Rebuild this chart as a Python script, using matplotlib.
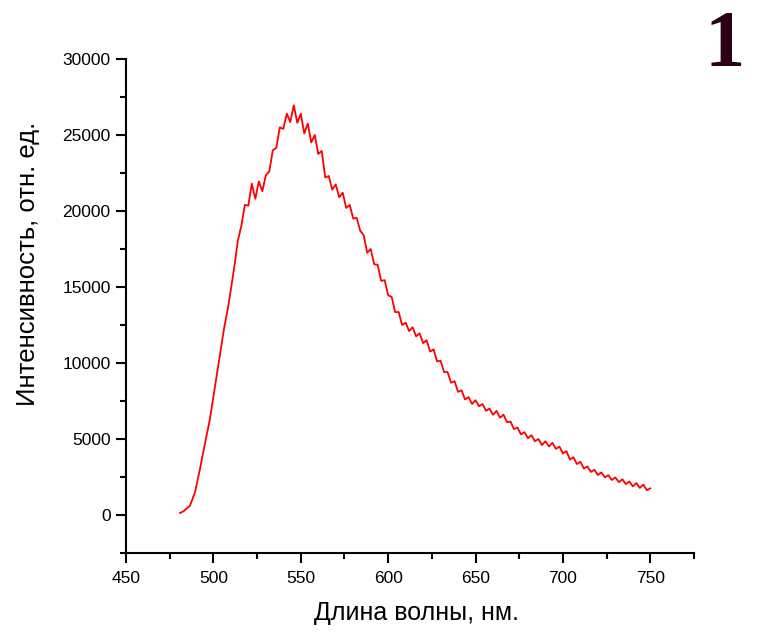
import numpy as np
import matplotlib.pyplot as plt
from matplotlib.ticker import MultipleLocator

plt.rcParams['font.family'] = ['Liberation Sans', 'DejaVu Sans']

# smooth rising edge
edge_wl = [480.9, 483.0, 486.6, 489.5, 492.3, 495.0, 498.0, 501.0, 503.7, 506.0,
           508.5, 510.5, 512.3]
edge_int = [130, 250, 610, 1500, 3020, 4600, 6300, 8500, 10460, 12200,
            13740, 15200, 16590]

# noisy part, every 2 nm from 514 to 750 (values include visible scatter)
noisy_wl = list(range(514, 751, 2))
noisy_int = [18050, 19020, 20400, 20350, 21800, 20800, 21950, 21300, 22350, 22600,
             24000, 24150, 25500, 25400, 26400, 25850, 26950, 25800, 26400, 25100,
             25750, 24500, 25000, 23750, 23950, 22200, 22300, 21400, 21750, 20900,
             21200, 20200, 20400, 19500, 19550, 18700, 18400, 17250, 17500, 16500,
             16450, 15400, 15450, 14450, 14350, 13350, 13350, 12500, 12650, 12100,
             12350, 11750, 11950, 11300, 11500, 10750, 10900, 10100, 10150, 9400,
             9400, 8700, 8800, 8100, 8200, 7600, 7750, 7300, 7550, 7150,
             7300, 6850, 7000, 6590, 6850, 6400, 6600, 6100, 6150, 5650,
             5750, 5300, 5450, 5050, 5250, 4850, 5000, 4600, 4850, 4500,
             4750, 4350, 4500, 4050, 4200, 3650, 3800, 3350, 3500, 3050,
             3200, 2830, 2970, 2630, 2800, 2480, 2620, 2300, 2470, 2160,
             2350, 2030, 2200, 1880, 2100, 1780, 2000, 1630, 1750]

wavelength = edge_wl + noisy_wl
intensity = edge_int + noisy_int

fig = plt.figure(figsize=(7.66, 6.34), dpi=100)
ax = fig.add_axes([0.1645, 0.1278, 0.7415, 0.7792])

ax.plot(wavelength, intensity, color='#ff0000', lw=1.3)

ax.set_xlim(450, 775)
ax.set_ylim(-2500, 30000)
ax.xaxis.set_major_locator(MultipleLocator(50))
ax.xaxis.set_minor_locator(MultipleLocator(25))
ax.yaxis.set_major_locator(MultipleLocator(5000))
ax.yaxis.set_minor_locator(MultipleLocator(2500))

for s in ['top', 'right']:
    ax.spines[s].set_visible(False)
for s in ['left', 'bottom']:
    ax.spines[s].set_linewidth(1.5)

ax.tick_params(which='major', length=7, width=1.5, labelsize=12.5)
ax.tick_params(axis='y', which='major', pad=4)
ax.tick_params(axis='x', which='major', pad=6)
ax.tick_params(which='minor', length=4, width=1.5)

ax.set_xlabel('Длина волны, нм.', fontsize=18)
ax.set_ylabel('Интенсивность, отн. ед.', fontsize=18.5)
ax.xaxis.set_label_coords(0.512, -0.097)
ax.yaxis.set_label_coords(-0.151, 0.585)

fig.text(0.972, 0.926, '1', fontsize=58, fontweight='bold', family='Liberation Serif',
         color='#2a0012', ha='right', va='center')

fig.savefig('out.png', dpi=100)
